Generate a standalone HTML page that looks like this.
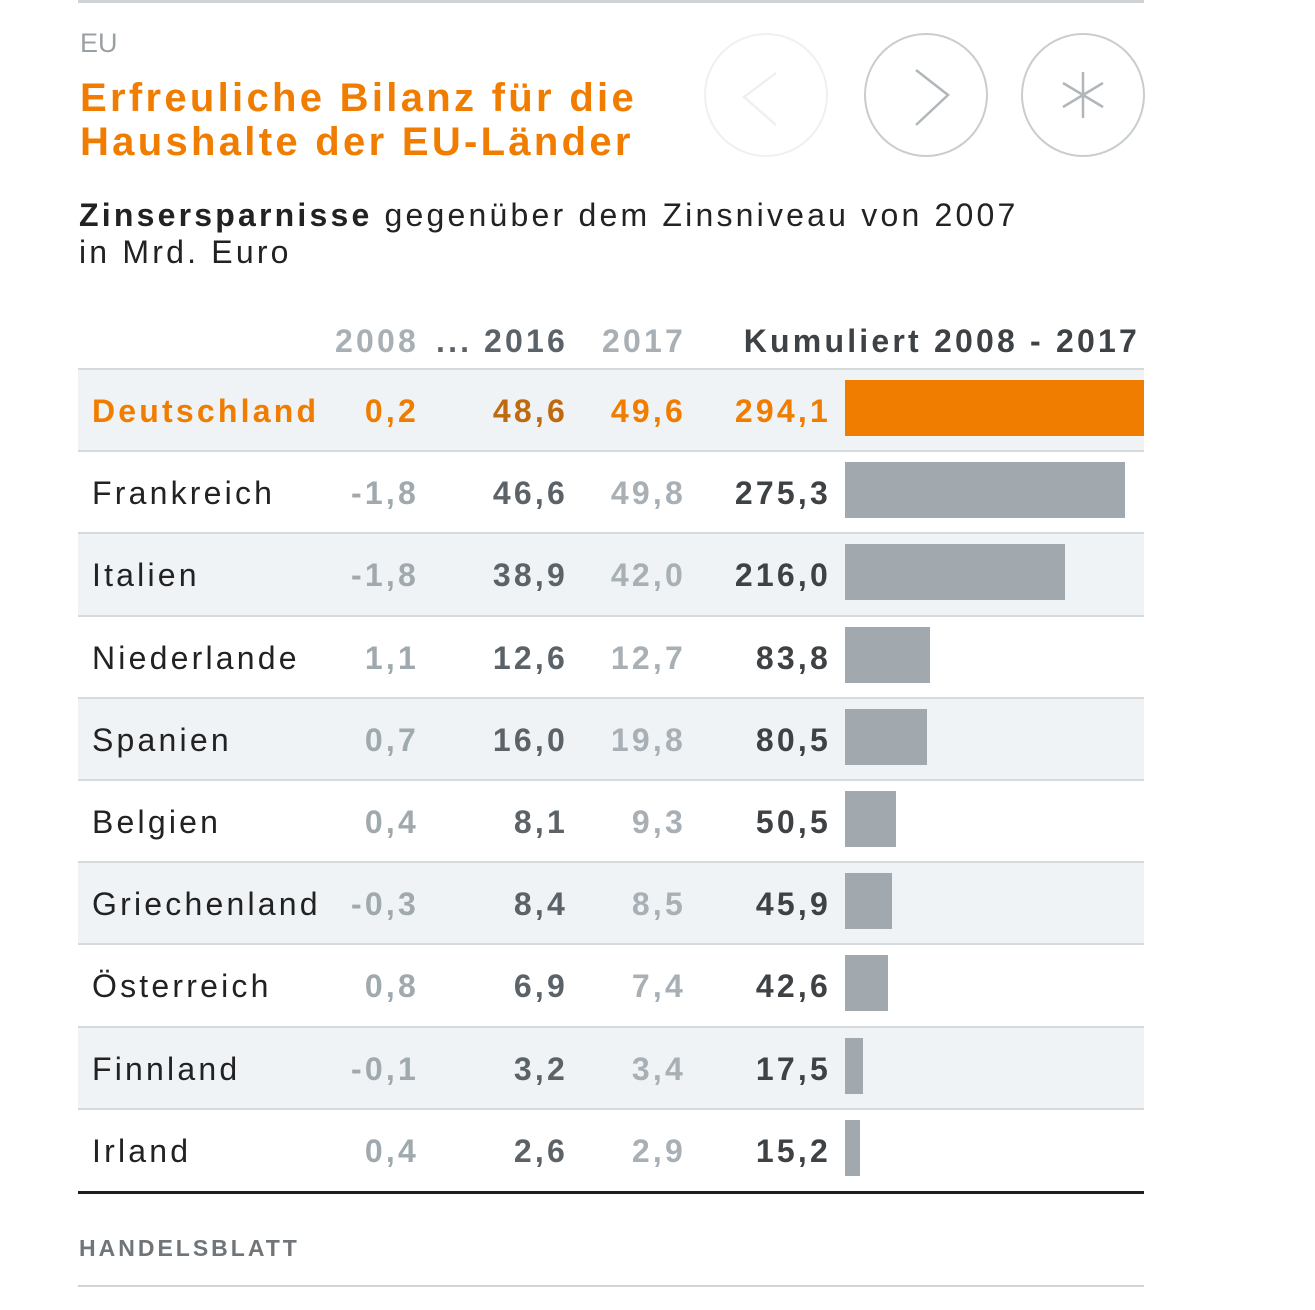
<!DOCTYPE html>
<html><head><meta charset="utf-8"><style>
body{margin:0;width:1315px;height:1310px;background:#fff;font-family:"Liberation Sans",sans-serif;position:relative;overflow:hidden}
.a{position:absolute;white-space:nowrap;letter-spacing:3.2px}
.r{text-align:right}
</style></head><body>
<div class="a" style="left:78px;top:0;width:1066px;height:3px;background:#d0d4d7"></div>
<div class="a" style="left:80px;top:28px;font-size:27px;color:#9aa1a5;letter-spacing:0">EU</div>
<div class="a" style="left:80px;top:76px;font-size:40px;line-height:44px;font-weight:bold;color:#f07d00;letter-spacing:3.3px">Erfreuliche Bilanz für die<br>Haushalte der EU-Länder</div>
<svg class="a" style="left:700px;top:30px" width="450" height="132">
<g><circle cx="66" cy="65" r="61" fill="none" stroke="#eef0f1" stroke-width="2"/><polyline points="76,43 44,67 76,95" fill="none" stroke="#eef0f1" stroke-width="2.5"/></g>
<g><circle cx="226" cy="65" r="61" fill="none" stroke="#c8cdd0" stroke-width="2"/><polyline points="216,40 248,65 216,95" fill="none" stroke="#b0b7bb" stroke-width="2.5"/></g>
<g><circle cx="383" cy="65" r="61" fill="none" stroke="#c8cdd0" stroke-width="2"/><g stroke="#b0b7bb" stroke-width="2.5"><line x1="383" y1="42" x2="383" y2="88"/><line x1="363" y1="53" x2="403" y2="77"/><line x1="363" y1="77" x2="403" y2="53"/></g></g>
</svg>
<div class="a" style="left:79px;top:197px;font-size:32px;line-height:37px;color:#222"><b>Zinsersparnisse</b> gegenüber dem Zinsniveau von 2007<br>in Mrd. Euro</div>
<div class="a r" style="left:300px;width:119px;top:323px;font-size:32px;font-weight:bold;color:#a8b0b5">2008</div>
<div class="a" style="left:436px;top:323px;font-size:32px;font-weight:bold;color:#5c6368">...</div>
<div class="a r" style="left:450px;width:118px;top:323px;font-size:32px;font-weight:bold;color:#5c6368">2016</div>
<div class="a r" style="left:570px;width:116px;top:323px;font-size:32px;font-weight:bold;color:#a8b0b5">2017</div>
<div class="a r" style="left:700px;width:440px;top:323px;font-size:32px;font-weight:bold;color:#3e4245">Kumuliert 2008 - 2017</div>
<div id="tbl"></div>
<div class="a" style="left:79px;top:1235px;font-size:23px;font-weight:bold;color:#707579;letter-spacing:3px">HANDELSBLATT</div>
<div class="a" style="left:78px;top:1285px;width:1066px;height:2px;background:#d0d4d7"></div>
<script>
const countries=["Deutschland","Frankreich","Italien","Niederlande","Spanien","Belgien","Griechenland","Österreich","Finnland","Irland"];
const v2008=[0.2,-1.8,-1.8,1.1,0.7,0.4,-0.3,0.8,-0.1,0.4];
const v2016=[48.6,46.6,38.9,12.6,16.0,8.1,8.4,6.9,3.2,2.6];
const v2017=[49.6,49.8,42.0,12.7,19.8,9.3,8.5,7.4,3.4,2.9];
const cumulative=[294.1,275.3,216.0,83.8,80.5,50.5,45.9,42.6,17.5,15.2];
const T=document.getElementById('tbl');
const top0=368,rh=82.2,barX=845,barW=299,maxV=Math.max(...cumulative);
const f=v=>v.toFixed(1).replace('.',',');
function mk(tag,css,txt){const e=document.createElement(tag);e.className='a';e.style.cssText=css;if(txt!=null)e.textContent=txt;T.appendChild(e);return e;}
countries.forEach((c,i)=>{
 const y=top0+i*rh,hl=i===0;
 const bg=mk('div',`left:78px;top:${y}px;width:1066px;height:${rh}px;background:${i%2===0?'#eff3f5':'#fff'}`);
 
 
 const ln=mk('div',`left:78px;top:${y}px;width:1066px;height:2px;background:#d5dadd`);
 
 
 const ty=y+23,fs='font-size:32px;line-height:40px;';
 const n=mk('div',`left:92px;top:${ty}px;${fs}color:${hl?'#f07d00':'#222'};${hl?'font-weight:bold':''}`,c);
 
 
 const a=mk('div',`left:300px;width:119px;text-align:right;top:${ty}px;${fs}font-weight:bold;color:${hl?'#f07d00':'#a0a9ae'}`,f(v2008[i]));
 
 
 const b=mk('div',`left:440px;width:128px;text-align:right;top:${ty}px;${fs}font-weight:bold;color:${hl?'#c06a10':'#5c6368'}`,f(v2016[i]));
 
 
 const d=mk('div',`left:570px;width:116px;text-align:right;top:${ty}px;${fs}font-weight:bold;color:${hl?'#f07d00':'#a8b0b5'}`,f(v2017[i]));
 
 
 const k=mk('div',`left:690px;width:141px;text-align:right;top:${ty}px;${fs}font-weight:bold;color:${hl?'#f07d00':'#3e4245'}`,f(cumulative[i]));
 
 
 const bar=mk('div',`left:${barX}px;top:${y+12}px;width:${cumulative[i]/maxV*barW}px;height:56px;background:${hl?'#f07d00':'#a1a9ae'}`);
 
 
});
const bl=mk('div',`left:78px;top:${top0+countries.length*rh+1}px;width:1066px;height:3px;background:#1e1e1e`);


</script>
</body></html>
